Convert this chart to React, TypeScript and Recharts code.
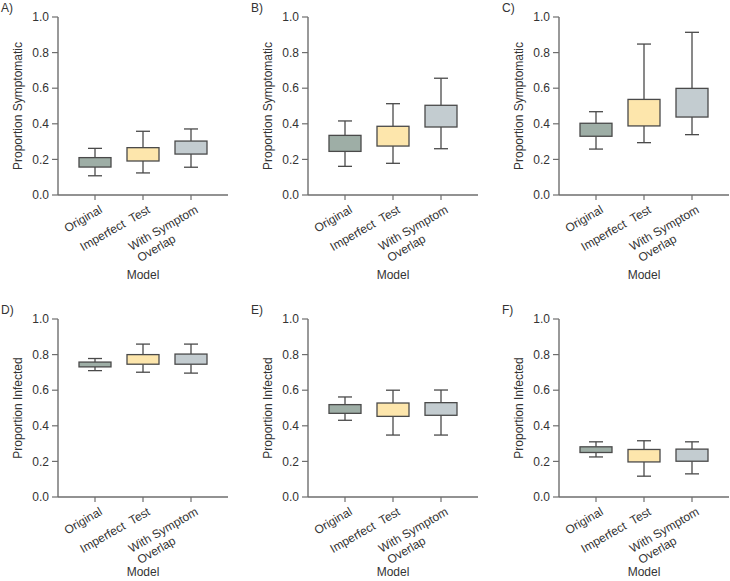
import React from 'react';
import { ComposedChart, Bar, XAxis, YAxis, Cell } from 'recharts';

const FONT = '"Liberation Sans", Arial, Helvetica, sans-serif';
const TEXT = '#333333';
const AXIS = '#6e6e6e';
const EDGE = '#4a4a4a';

const CATEGORIES = ['Original', 'Imperfect  Test', 'With Symptom\nOverlap'];
const BOX_COLORS = ['#9eaea6', '#fde6ac', '#c3ccd0'];
const Y_TICKS = [0, 0.2, 0.4, 0.6, 0.8, 1.0];

// Panel A – Proportion Symptomatic
const A_MIN = [0.108, 0.124, 0.156];
const A_Q1 = [0.157, 0.191, 0.23];
const A_Q3 = [0.21, 0.266, 0.303];
const A_MAX = [0.262, 0.358, 0.371];

// Panel B
const B_MIN = [0.161, 0.178, 0.26];
const B_Q1 = [0.245, 0.275, 0.382];
const B_Q3 = [0.335, 0.386, 0.504];
const B_MAX = [0.416, 0.513, 0.656];

// Panel C
const C_MIN = [0.258, 0.294, 0.339];
const C_Q1 = [0.33, 0.388, 0.438];
const C_Q3 = [0.403, 0.537, 0.599];
const C_MAX = [0.468, 0.848, 0.914];

// Panel D – Proportion Infected
const D_MIN = [0.71, 0.701, 0.696];
const D_Q1 = [0.731, 0.746, 0.746];
const D_Q3 = [0.758, 0.8, 0.803];
const D_MAX = [0.778, 0.859, 0.859];

// Panel E
const E_MIN = [0.431, 0.348, 0.348];
const E_Q1 = [0.47, 0.453, 0.459];
const E_Q3 = [0.519, 0.528, 0.53];
const E_MAX = [0.562, 0.6, 0.601];

// Panel F
const F_MIN = [0.225, 0.117, 0.13];
const F_Q1 = [0.25, 0.197, 0.201];
const F_Q3 = [0.282, 0.267, 0.269];
const F_MAX = [0.31, 0.316, 0.31];

const buildData = (mn: number[], q1: number[], q3: number[], mx: number[]) =>
  CATEGORIES.map((name, i) => ({
    name,
    base: mn[i],
    lw: q1[i] - mn[i],
    box: q3[i] - q1[i],
    uw: mx[i] - q3[i],
  }));

const CAP = 7;

const LowerWhisker = (p: any) => {
  const cx = p.x + p.width / 2;
  return (
    <g stroke={EDGE} strokeWidth={1.3}>
      <line x1={cx} x2={cx} y1={p.y} y2={p.y + p.height} />
      <line x1={cx - CAP} x2={cx + CAP} y1={p.y + p.height} y2={p.y + p.height} />
    </g>
  );
};

const UpperWhisker = (p: any) => {
  const cx = p.x + p.width / 2;
  return (
    <g stroke={EDGE} strokeWidth={1.3}>
      <line x1={cx} x2={cx} y1={p.y} y2={p.y + p.height} />
      <line x1={cx - CAP} x2={cx + CAP} y1={p.y} y2={p.y} />
    </g>
  );
};

const BoxShape = (p: any) => (
  <rect x={p.x} y={p.y} width={p.width} height={p.height} fill={p.fill} stroke={EDGE} strokeWidth={1.3} />
);

const CatTick = (p: any) => {
  const lines = String(p.payload.value).split('\n');
  return (
    <g transform={`translate(${p.x + 8},${p.y + 10})`}>
      <text transform="rotate(-30)" textAnchor="end" fontSize={12} fill={TEXT} fontFamily={FONT} style={{ whiteSpace: 'pre' }}>
        {lines.map((l, i) => (
          <tspan key={i} x={i === 0 ? 0 : -34} dy={i === 0 ? 0 : 14}>
            {l}
          </tspan>
        ))}
      </text>
    </g>
  );
};

const YTitle = (p: any) => {
  const vb = p.viewBox || { x: 0, y: 17, width: 58, height: 178 };
  const cx = vb.x + 18;
  const cy = vb.y + vb.height / 2;
  return (
    <text x={cx} y={cy} transform={`rotate(-90, ${cx}, ${cy})`} textAnchor="middle" dominantBaseline="central" fontSize={12} fill={TEXT} fontFamily={FONT}>
      {p.text}
    </text>
  );
};

const XTitle = (p: any) => {
  const vb = p.viewBox || { x: 58, y: 195, width: 170, height: 95 };
  return (
    <text x={vb.x + vb.width / 2} y={vb.y + p.gap} textAnchor="middle" fontSize={12} fill={TEXT} fontFamily={FONT}>
      Model
    </text>
  );
};

type PanelProps = {
  left: number;
  top: number;
  letter: string;
  yTitle: string;
  titleGap: number;
  mn: number[];
  q1: number[];
  q3: number[];
  mx: number[];
};

const Panel = ({ left, top, letter, yTitle, titleGap, mn, q1, q3, mx }: PanelProps) => {
  const data = buildData(mn, q1, q3, mx);
  return (
    <div style={{ position: 'absolute', left, top, width: 240, height: 290 }}>
      <div style={{ position: 'absolute', left: 1, top: 1, fontSize: 12, fontFamily: FONT, color: TEXT, lineHeight: '14px' }}>{letter}</div>
      <ComposedChart width={240} height={290} data={data} margin={{ top: 17, right: 12, left: 0, bottom: 0 }} barSize={32}>
        <XAxis
          dataKey="name"
          type="category"
          interval={0}
          height={95}
          padding={{ left: 13, right: 13 }}
          axisLine={{ stroke: AXIS, strokeWidth: 1.4 }}
          tickLine={{ stroke: AXIS, strokeWidth: 1.2 }}
          tickSize={5}
          tick={<CatTick />}
          label={<XTitle gap={titleGap} />}
        />
        <YAxis
          type="number"
          domain={[0, 1]}
          ticks={Y_TICKS}
          width={58}
          tickSize={6}
          tickMargin={3}
          axisLine={{ stroke: AXIS, strokeWidth: 1.4 }}
          tickLine={{ stroke: AXIS, strokeWidth: 1.2 }}
          tick={{ fontSize: 12, fill: TEXT, fontFamily: FONT }}
          tickFormatter={(v: number) => v.toFixed(1)}
          label={<YTitle text={yTitle} />}
        />
        <Bar dataKey="base" stackId="s" fill="none" isAnimationActive={false} />
        <Bar dataKey="lw" stackId="s" shape={LowerWhisker} isAnimationActive={false} />
        <Bar dataKey="box" stackId="s" shape={BoxShape} isAnimationActive={false}>
          {data.map((d, i) => (
            <Cell key={d.name} fill={BOX_COLORS[i]} />
          ))}
        </Bar>
        <Bar dataKey="uw" stackId="s" shape={UpperWhisker} isAnimationActive={false} />
      </ComposedChart>
    </div>
  );
};

export default function App() {
  return (
    <div style={{ position: 'absolute', left: 0, top: 0, width: 730, height: 581, overflow: 'hidden', background: '#fff' }}>
      <Panel left={0} top={0} titleGap={84} letter="A)" yTitle="Proportion Symptomatic" mn={A_MIN} q1={A_Q1} q3={A_Q3} mx={A_MAX} />
      <Panel left={250} top={0} titleGap={84} letter="B)" yTitle="Proportion Symptomatic" mn={B_MIN} q1={B_Q1} q3={B_Q3} mx={B_MAX} />
      <Panel left={501} top={0} titleGap={84} letter="C)" yTitle="Proportion Symptomatic" mn={C_MIN} q1={C_Q1} q3={C_Q3} mx={C_MAX} />
      <Panel left={0} top={302} titleGap={79} letter="D)" yTitle="Proportion Infected" mn={D_MIN} q1={D_Q1} q3={D_Q3} mx={D_MAX} />
      <Panel left={250} top={302} titleGap={79} letter="E)" yTitle="Proportion Infected" mn={E_MIN} q1={E_Q1} q3={E_Q3} mx={E_MAX} />
      <Panel left={501} top={302} titleGap={79} letter="F)" yTitle="Proportion Infected" mn={F_MIN} q1={F_Q1} q3={F_Q3} mx={F_MAX} />
    </div>
  );
}
